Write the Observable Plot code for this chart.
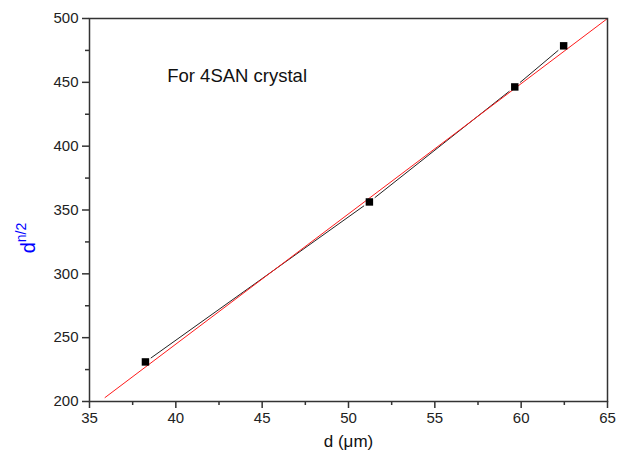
<!DOCTYPE html>
<html><head><meta charset="utf-8">
<script src="https://cdn.jsdelivr.net/npm/d3@7"></script>
<script src="https://cdn.jsdelivr.net/npm/@observablehq/plot@0.6"></script>
<style>body{margin:0;background:#fff;font-family:"Liberation Sans",Arial,sans-serif}</style>
</head><body><div id="chart"></div>
<script>
const dValues = [38.24, 51.21, 59.63, 62.46];
const dPower = [231, 356.3, 446.4, 478.6];
const fitX = [35.9, 65];
const fitY = [203.1, 500];
const xMajor = [35, 40, 45, 50, 55, 60, 65];
const xMinor = [37.5, 42.5, 47.5, 52.5, 57.5, 62.5];
const yMajor = [200, 250, 300, 350, 400, 450, 500];
const yMinor = [225, 275, 325, 375, 425, 475];
const annotation = "For 4SAN crystal";

const pts = dValues.map((x, i) => ({x, y: dPower[i]}));
const fit = fitX.map((x, i) => ({x, y: fitY[i]}));

const chart = Plot.plot({
  width: 618, height: 461,
  marginLeft: 89, marginRight: 11, marginTop: 18, marginBottom: 60,
  style: {fontFamily: '"Liberation Sans", Arial, sans-serif', fontSize: "15px", color: "#222"},
  x: {domain: [35, 65], label: null},
  y: {domain: [200, 500], label: null},
  marks: [
    Plot.axisX({ticks: xMajor, tickSize: 7, tickPadding: 4, stroke: "#333", strokeWidth: 1.5, fontSize: 15, fill: "#222"}),
    Plot.axisX({ticks: xMinor, tickSize: 4, text: null, stroke: "#333", strokeWidth: 1.5}),
    Plot.axisY({ticks: yMajor, tickSize: 7, tickPadding: 4, stroke: "#333", strokeWidth: 1.5, fontSize: 15, fill: "#222"}),
    Plot.axisY({ticks: yMinor, tickSize: 4, text: null, stroke: "#333", strokeWidth: 1.5}),
    Plot.line(pts, {x: "x", y: "y", stroke: "#222", strokeWidth: 1}),
    Plot.dot(pts, {x: "x", y: "y", symbol: "square", r: 6, fill: "white"}),
    Plot.line(fit, {x: "x", y: "y", stroke: "#ff1a1a", strokeWidth: 1}),
    Plot.dot(pts, {x: "x", y: "y", symbol: "square", r: 4.2, fill: "#000"}),
    Plot.frame({stroke: "#333", strokeWidth: 1.5}),
    Plot.text([annotation], {x: 39.5, y: 455, text: d => d, textAnchor: "start", fontSize: 18.5, fill: "#111"}),
    Plot.text(["d (\u03bcm)"], {frameAnchor: "bottom", dy: 45, text: d => d, fontSize: 17, fill: "#111"})
  ]
});
const svg = d3.select(chart);
const yl = svg.append("text")
  .attr("transform", "translate(35,238) rotate(-90)")
  .attr("fill", "#0000ff")
  .attr("font-family", '"Liberation Sans", Arial, sans-serif');
yl.append("tspan").attr("font-size", 20).text("d");
yl.append("tspan").attr("font-size", 14).attr("dy", -9).text("n/2");
document.getElementById("chart").appendChild(chart);
</script></body></html>
